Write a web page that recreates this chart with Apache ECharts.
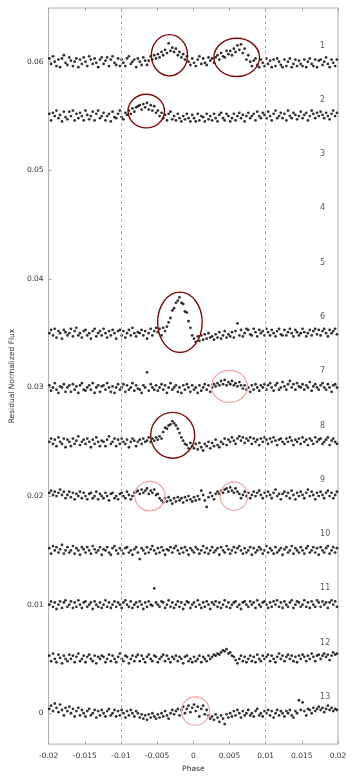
<!DOCTYPE html>
<html><head><meta charset="utf-8">
<script src="https://cdn.jsdelivr.net/npm/echarts@6/dist/echarts.min.js"></script>
<style>html,body{margin:0;padding:0;background:#fff}#c{width:355px;height:778px}</style>
</head><body><div id="c"></div><script>
// phase samples (units of 1e-5)
const phases = [
-1990,-1966,-1939,-1915,-1891,-1864,-1841,-1815,-1789,-1766,
-1740,-1714,-1691,-1664,-1640,-1616,-1589,-1566,-1540,-1515,
-1490,-1466,-1439,-1416,-1390,-1364,-1341,-1315,-1290,-1266,
-1240,-1214,-1191,-1165,-1140,-1116,-1089,-1066,-1040,-1015,
-990,-966,-939,-916,-890,-864,-841,-815,-790,-766,
-740,-714,-691,-665,-640,-616,-589,-566,-540,-515,
-490,-466,-439,-416,-390,-364,-341,-315,-290,-266,
-240,-214,-191,-165,-140,-116,-89,-66,-40,-15,
10,34,61,84,110,136,159,185,210,234,
260,286,309,335,360,384,411,434,460,485,
510,534,561,584,610,636,659,685,710,734,
760,786,809,835,860,884,911,934,960,985,
1010,1034,1061,1084,1110,1136,1159,1185,1210,1234,
1260,1286,1309,1335,1360,1384,1411,1434,1460,1485,
1510,1534,1561,1584,1610,1636,1659,1685,1710,1734,
1760,1786,1809,1835,1860,1884,1911,1934,1960,1985];

const rowLabels = ['1','2','3','4','5','6','7','8','9','10','11','12','13'];
const rowOffsets = [0.06,0.055,0.05,0.045,0.04,0.035,0.03,0.025,0.02,0.015,0.01,0.005,0];

// residual flux of each row (units of 1e-4)
const res1 = [
3,-2,5,0,-4,2,-5,3,6,-1, -3,4,1,-4,0,3,-5,2,-2,4, 0,-4,5,2,-2,3,-1,-5,2,4, -2,1,4,-4,2,5,-1,-3,3,-4,
2,-1,-4,3,5,-2,0,2,-5,3, 0,-3,4,1,-3,1,5,2,6,3, 7,4,9,6,11,8,17,10,13,9, 12,6,9,4,7,2,5,0,-3,3,
-1,-4,2,5,-2,3,-1,-3,4,1, 3,-1,4,6,2,8,5,4,10,7, 10,6,12,9,15,11,16,8,12,2, 6,0,-4,1,3,-3,-5,2,-1,-4,
3,-2,1,-5,2,-4,3,0,-3,-5, 2,-4,0,3,-5,-2,2,-4,1,-2, -4,2,-5,0,3,-2,-4,2,-5,1, 2,-3,0,4,-2,-5,2,-1,-4,2];
const res2 = [
2,-4,3,0,5,-2,1,-5,4,-1, -3,4,0,5,-4,2,-2,3,0,-4, 5,1,-3,0,4,-4,2,5,-2,0, 3,-4,0,2,-5,4,-1,-2,2,5,
-1,-3,3,1,5,2,7,4,8,9, 10,6,11,8,12,6,10,5,9,3, 5,0,3,-2,1,-4,2,4,-3,0, -4,2,-2,-5,0,-3,2,-2,-5,1,
-2,-5,2,-4,0,-1,-5,2,-3,0, -4,2,-2,-5,1,3,-2,-4,2,0, -5,-2,2,-4,0,3,-2,1,-5,0, 3,-2,0,2,-4,4,0,-2,3,1,
-2,4,0,-4,2,5,-2,0,3,-2, 2,-4,5,0,-2,3,1,-3,0,4, -2,1,3,-4,0,5,2,-2,3,0, 4,1,-2,3,0,-3,2,5,0,3];
const res3 = [];
const res4 = [];
const res5 = [];
const res6 = [
0,3,-2,4,-4,2,0,-5,3,1, -2,0,4,-3,2,5,-2,0,-4,2, 3,-2,0,-5,2,4,-3,0,2,-2, 4,0,-4,2,-2,3,0,-5,2,3,
-2,2,-4,0,3,-2,5,0,-3,1, 0,3,-2,2,-5,0,4,-2,2,5, 1,4,-2,5,2,6,10,14,21,23, 28,30,33,28,27,20,19,11,5,-2,
-5,-8,-3,-7,-2,-6,-1,-5,0,-4, -3,-6,-1,-4,1,-5,-2,2,-4,-1, -3,1,-4,2,9,-2,3,-3,0,4, 3,-1,-2,4,1,-3,3,0,2,-2,
4,1,-2,3,0,-3,2,4,-1,-2, 3,-2,1,4,0,-3,3,1,-2,0, 4,1,-3,0,3,-2,2,4,-1,3, -2,2,4,0,-3,3,0,2,4,-1];
const res7 = [
2,-3,0,4,-2,-5,1,0,3,-4, 0,2,-4,3,-2,1,-5,2,4,-2, -3,0,2,-2,4,-5,0,2,-4,1, 2,-2,4,0,-4,1,-5,0,3,-2,
0,3,-4,2,-2,0,4,-3,2,-1, -2,-5,2,0,14,-3,3,0,-2,2, -3,0,3,-2,2,-5,0,4,-2,0, 2,-4,0,-5,2,-2,3,0,-4,2,
-2,0,-5,2,-3,0,3,-2,2,-4, 0,3,1,4,2,6,3,7,2,5, 3,6,2,4,1,5,2,-1,2,-2, 0,-4,2,-2,3,0,-3,2,0,3,
-2,2,4,0,-3,2,4,-2,0,5, 1,-2,3,6,0,3,-2,4,1,0, 3,-2,2,0,5,-3,1,3,0,-2, 2,4,0,-2,3,0,-4,2,3,0];
const res8 = [
0,3,-2,2,-4,4,0,-2,3,-5, 2,0,-4,3,-2,1,5,-3,0,2, -2,3,0,-5,2,-2,4,0,-4,1, 0,-4,2,5,-2,0,3,-4,2,-2,
3,0,-2,2,-5,0,3,1,-4,0, 2,-2,3,0,1,4,0,3,1,4, 2,5,3,9,13,12,15,16,19,17, 15,12,8,4,1,-2,-3,-6,-1,-4,
-6,-2,-7,-1,-5,-8,-2,-4,0,-6, -1,-4,2,-3,-5,0,-2,3,-3,2, 0,4,1,-2,3,5,1,4,-1,3, 1,4,-2,3,0,2,-3,3,0,4,
2,-2,3,0,4,1,-3,2,3,0, -2,3,0,4,1,-3,2,0,3,-2, 4,0,2,-3,3,1,-2,4,0,2, 3,-2,0,2,4,-3,1,3,0,-2];
const res9 = [
3,5,1,4,0,3,6,1,4,-2, 1,4,-1,3,-3,2,0,4,-2,3, 0,-3,2,3,-2,0,4,-3,2,0, -2,3,0,-4,2,3,-2,0,-3,2,
3,0,-2,4,1,-3,0,3,4,5, 2,6,3,5,7,2,5,3,6,1, 2,-2,-4,-6,-2,-5,-1,-4,-7,-2, -5,-1,-4,-2,-6,-1,-4,0,-3,-5,
-1,-4,0,-3,5,1,-4,-10,-1,3, 0,-3,2,4,2,5,3,6,7,4, 8,5,3,7,4,2,-2,1,4,0, 3,-2,1,4,0,3,5,1,-2,3,
0,4,1,-2,3,6,0,2,-3,2, 4,0,3,-2,5,1,-3,3,0,4, 1,-2,3,6,0,4,1,-3,3,0, 4,1,-2,3,5,0,3,-2,1,4];
const res10 = [
2,-3,4,0,3,-2,1,5,-3,0, 3,-2,0,4,-3,2,0,-4,3,1, -2,3,0,-3,4,1,-2,0,3,-4, 1,0,3,-2,-4,2,4,0,-3,2,
0,-3,2,3,-2,0,-4,1,3,-2, -8,2,0,-3,3,-2,1,4,0,-3, 2,-2,3,0,-4,1,0,3,-2,2, 4,0,-3,2,-2,3,0,-4,2,0,
-2,3,1,-3,0,4,-2,2,-3,0, 3,-2,0,2,-4,3,0,-2,4,1, -3,0,3,-2,2,4,0,-3,2,-2, 0,3,-4,2,-2,0,3,1,-3,0,
4,-2,2,0,-3,3,-2,0,2,-4, 1,3,-2,0,4,-3,2,0,-2,3, 0,-3,2,4,-2,0,3,-2,2,-4, 3,0,-2,2,4,-3,0,3,-2,2];
const res11 = [
0,3,-2,2,-4,0,3,-3,2,4, -2,0,3,-3,2,-2,4,0,-3,2, 3,-2,0,2,-4,3,0,-2,2,-3, 0,4,-2,2,-3,0,3,-2,2,0,
-3,2,4,0,-2,3,-3,0,2,-2, 3,0,-4,2,-2,3,0,-1,15,2, 0,-2,3,2,-3,0,4,-2,2,-3, 0,3,-2,2,-4,0,3,2,-3,0,
2,-2,4,0,-3,2,-2,3,0,-4, 2,0,3,-2,2,-3,0,4,-2,2, -3,0,2,3,-2,0,-4,2,3,0, -2,3,0,2,-3,4,0,-2,2,3,
0,-3,2,-2,3,0,4,-2,2,-3, 3,0,-2,2,4,-3,0,3,2,-2, 0,4,-2,2,-3,3,0,-2,4,2, -2,3,0,2,-3,2,4,0,3,-2];
const res12 = [
3,-2,5,0,-3,4,1,-4,3,0, -2,4,0,3,-3,2,5,-2,0,3, -3,2,4,0,-2,3,-4,2,0,3, 2,-3,0,4,-2,3,0,-3,2,5,
0,-2,3,2,-4,0,3,-2,2,4, -2,3,0,-3,2,4,0,-2,3,2, -3,0,2,4,-2,3,0,-3,2,0, 3,-2,2,0,-4,2,3,-2,0,-3,
2,-2,0,3,-3,2,0,-2,3,0, 2,4,3,5,4,6,8,7,9,5, 6,3,2,-1,-4,0,3,-2,2,-3, 0,3,-2,2,-3,4,0,-2,3,0,
2,4,-2,3,0,-3,2,5,0,3, -2,2,4,0,3,-2,2,-3,3,0, 4,2,-2,3,0,5,2,-2,3,4, 0,3,5,2,4,-1,3,6,4,5];
const res13 = [
4,7,2,9,5,1,8,3,-2,5, 2,6,0,4,-3,2,5,-2,3,0, -3,2,4,-2,0,3,-4,2,-2,3, 0,-3,2,4,-2,0,3,-3,2,-2,
3,0,-4,2,-2,3,0,-3,2,0, -4,-1,-5,-2,-6,-1,-4,0,-3,-5, -1,-4,0,-3,2,-2,-5,0,3,-1, 2,4,-2,3,6,0,4,7,1,5,
8,2,6,-3,4,7,-1,3,-2,-5, -3,-6,-1,-4,-8,-2,-5,-10,-1,-4, 0,-3,2,-2,3,0,-4,2,-2,0, 3,-2,0,-3,2,4,-2,0,-3,2,
0,3,-2,2,-4,0,3,-2,2,0, -3,2,0,3,-2,-4,2,0,12,3, 10,2,-2,4,3,0,5,2,4,6, 3,5,1,4,7,3,5,2,4,3];

// highlighted regions: [phase, flux, half-width (phase), half-height (flux), strong?1:0]
const highlights = [
  [-0.0033, 0.0606, 0.0025, 0.0019, 1],
  [0.0060, 0.0604, 0.00315, 0.00176, 1],
  [-0.0065, 0.05546, 0.00252, 0.00155, 1],
  [-0.00185, 0.0360, 0.00308, 0.00278, 1],
  [0.0050, 0.0301, 0.0025, 0.00147, 0],
  [-0.00285, 0.0256, 0.00304, 0.00211, 1],
  [-0.0060, 0.0200, 0.0021, 0.00135, 0],
  [0.0056, 0.0200, 0.0019, 0.00131, 0],
  [0.0003, 0.0002, 0.00194, 0.0013, 0]
];
const yTicks = [0,0.01,0.02,0.03,0.04,0.05,0.06];
const dashedPhases = [-0.01, 0.01];

const rows = [res1,res2,res3,res4,res5,res6,res7,res8,res9,res10,res11,res12,res13];
const FONT = 'DejaVu Sans';
const TXT = '#333';
const FRAME = '#aaa';

const series = rows.map((res, k) => ({
  type: 'scatter',
  data: res.map((v, i) => [phases[i] * 1e-5, rowOffsets[k] + v * 1e-4]),
  symbol: 'circle', symbolSize: 2.8,
  itemStyle: { color: '#000' },
  silent: true, animation: false, z: 3
}));
series[0].markLine = {
  silent: true, symbol: ['none','none'], animation: false,
  label: { show: false },
  lineStyle: { type: [3,3], color: '#aaa', width: 1 },
  data: dashedPhases.map(p => ({ xAxis: p }))
};
series.push({
  type: 'scatter', silent: true, animation: false,
  symbolSize: 1, itemStyle: { color: 'rgba(0,0,0,0)' },
  data: rowLabels.map((t, k) => ({ value: [0.01745, rowOffsets[k] + 0.0015], name: t })),
  label: { show: true, position: 'right', distance: 0, formatter: '{b}',
           fontFamily: FONT, fontSize: 8, color: TXT }
});
series.push({
  type: 'custom', silent: true, animation: false, z: 5, clip: false,
  data: highlights,
  renderItem: (params, api) => {
    const c = api.coord([api.value(0), api.value(1)]);
    const s = api.size([api.value(2), api.value(3)]);
    const strong = api.value(4) === 1;
    return { type: 'ellipse',
      shape: { cx: c[0], cy: c[1], rx: s[0], ry: s[1] },
      style: { fill: null, stroke: strong ? '#7f0a0a' : '#f4a3a3', lineWidth: strong ? 1.4 : 1.2 } };
  }
});

const chart = echarts.init(document.getElementById('c'), null, { renderer: 'canvas' });
chart.setOption({
  animation: false,
  backgroundColor: '#fff',
  grid: { left: 46, right: 17, top: 8, bottom: 31, show: true, borderColor: FRAME, borderWidth: 1 },
  xAxis: [{
    type: 'value', min: -0.02, max: 0.02, interval: 0.005,
    name: 'Phase', nameLocation: 'middle', nameGap: 18,
    nameTextStyle: { fontFamily: FONT, fontSize: 7.5, color: TXT },
    axisLine: { show: false, onZero: false },
    axisTick: { inside: true, length: 3, lineStyle: { color: FRAME } },
    axisLabel: { fontFamily: FONT, fontSize: 7.5, color: TXT, margin: 8,
                 formatter: v => String(+v.toFixed(3)) },
    splitLine: { show: false }
  }, {
    type: 'value', position: 'top', min: -0.02, max: 0.02, interval: 0.005,
    axisLine: { show: false, onZero: false }, axisLabel: { show: false },
    axisTick: { inside: true, length: 3, lineStyle: { color: FRAME } },
    splitLine: { show: false }
  }],
  yAxis: {
    type: 'value', min: -0.00284, max: 0.06495,
    name: 'Residual Normalized Flux', nameLocation: 'middle', nameGap: 32,
    nameTextStyle: { fontFamily: FONT, fontSize: 7.5, color: TXT },
    axisLine: { show: false, onZero: false },
    axisTick: { inside: true, length: 3, lineStyle: { color: FRAME }, customValues: yTicks },
    axisLabel: { fontFamily: FONT, fontSize: 7.5, color: TXT, margin: 5, customValues: yTicks,
                 formatter: v => String(+v.toFixed(3)) },
    splitLine: { show: false }
  },
  series: series
});
</script></body></html>
